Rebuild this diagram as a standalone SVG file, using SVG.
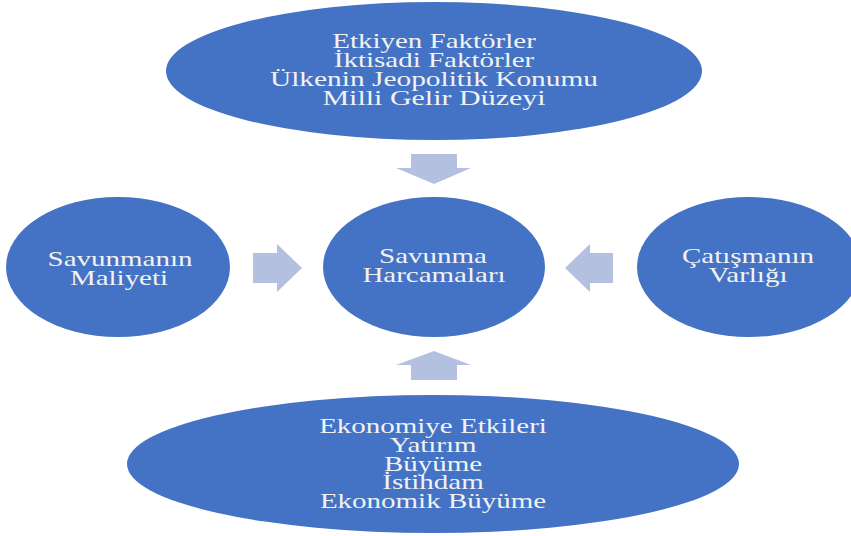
<svg xmlns="http://www.w3.org/2000/svg" width="851" height="536" viewBox="0 0 851 536">
<style>
.node{fill:#4472C4;}
.arrow{fill:#B3C0E0;}
text{font-family:"Liberation Serif","Times New Roman",serif;font-size:20px;fill:#F2F2F2;text-anchor:middle;}
</style>
<rect width="851" height="536" fill="#FFFFFF"/>
<g id="connectors">
<polygon class="arrow" points="411,154 457,154 457,168 471,168 434,184 396,168 411,168"/>
<polygon class="arrow" points="253,253 277,253 277,244 302,268 277,292 277,283 253,283"/>
<polygon class="arrow" points="613,253 590,253 590,244 565,268 590,292 590,283 613,283"/>
<polygon class="arrow" points="411,380 411,365 396,365 434,351 471,365 457,365 457,380"/>
</g>
<g id="etkiyen">
<ellipse class="node" cx="434" cy="71" rx="268" ry="69"/>
<text transform="translate(434 48) scale(1.45 1)">Etkiyen Faktörler</text>
<text transform="translate(434 67) scale(1.45 1)">İktisadi Faktörler</text>
<text transform="translate(434 86) scale(1.47 1)">Ülkenin Jeopolitik Konumu</text>
<text transform="translate(434 105) scale(1.5 1)">Milli Gelir Düzeyi</text>
</g>
<g id="savunma">
<ellipse class="node" cx="434" cy="267" rx="111" ry="70"/>
<text transform="translate(433 263) scale(1.45 1)">Savunma</text>
<text transform="translate(434 282) scale(1.45 1)">Harcamaları</text>
</g>
<g id="maliyet">
<ellipse class="node" cx="118" cy="267" rx="112" ry="70"/>
<text transform="translate(120 266) scale(1.45 1)">Savunmanın</text>
<text transform="translate(119 285) scale(1.45 1)">Maliyeti</text>
</g>
<g id="catisma">
<ellipse class="node" cx="749" cy="267" rx="112" ry="70"/>
<text transform="translate(748 263) scale(1.45 1)">Çatışmanın</text>
<text transform="translate(748 282) scale(1.45 1)">Varlığı</text>
</g>
<g id="ekonomi">
<ellipse class="node" cx="433" cy="464" rx="306" ry="69"/>
<text transform="translate(433 433) scale(1.45 1)">Ekonomiye Etkileri</text>
<text transform="translate(433 452) scale(1.45 1)">Yatırım</text>
<text transform="translate(433 471) scale(1.45 1)">Büyüme</text>
<text transform="translate(433 489) scale(1.45 1)">İstihdam</text>
<text transform="translate(433 508) scale(1.45 1)">Ekonomik Büyüme</text>
</g>
</svg>
